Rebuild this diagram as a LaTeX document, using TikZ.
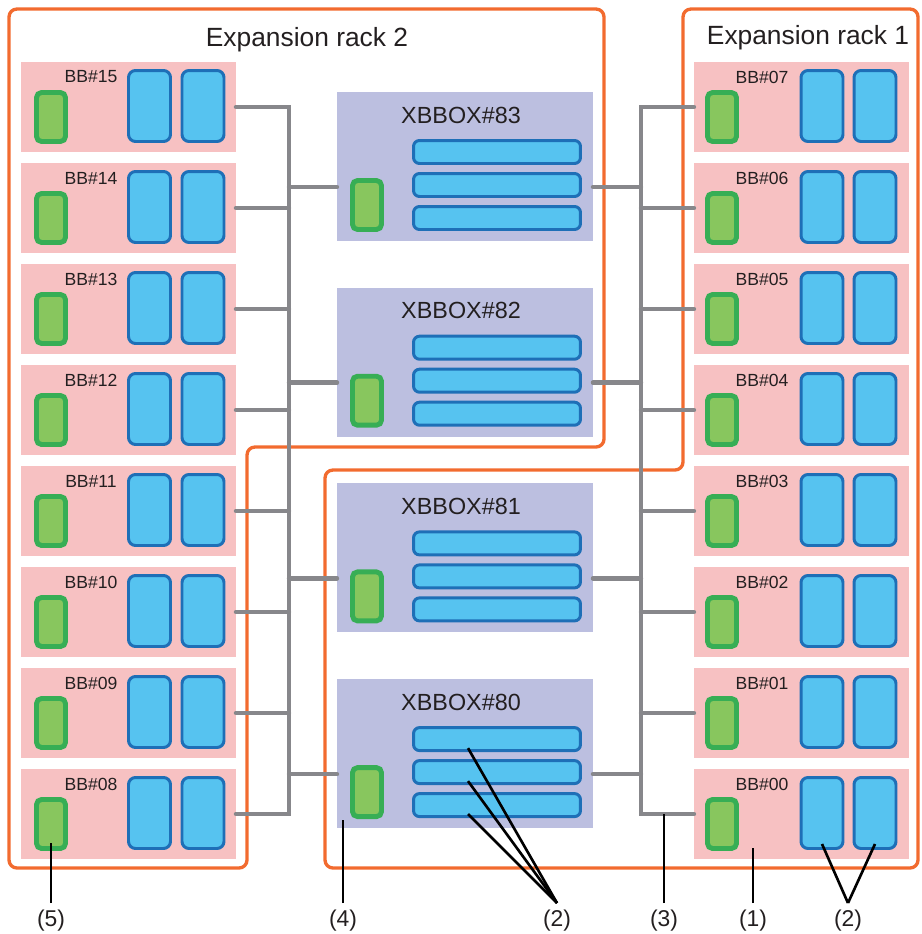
\documentclass[tikz,border=0pt]{standalone}
\usepackage{fontspec}
\setmainfont{Liberation Sans}
\definecolor{rackorange}{RGB}{242,107,47}
\definecolor{bbpink}{RGB}{247,193,194}
\definecolor{xlav}{RGB}{188,191,224}
\definecolor{lblue}{RGB}{86,195,240}
\definecolor{dblue}{RGB}{30,111,183}
\definecolor{lgreen}{RGB}{136,198,94}
\definecolor{dgreen}{RGB}{55,174,85}
\definecolor{busgray}{RGB}{135,135,139}
\definecolor{txt}{RGB}{35,31,32}
\begin{document}
\begin{tikzpicture}[x=0.02cm, y=-0.02cm]
    \tikzstyle{rack}=[draw=rackorange, line width=1.9pt, rounded corners=0.16cm]
    \tikzstyle{bbbox}=[fill=bbpink, anchor=north west, inner sep=0, outer sep=0, minimum width=4.3cm, minimum height=1.8cm]
    \tikzstyle{xbox}=[fill=xlav, anchor=north west, inner sep=0, outer sep=0, minimum width=5.12cm, minimum height=2.98cm]
    \tikzstyle{gbox}=[draw=dgreen, fill=lgreen, line width=2.8pt, rounded corners=0.1cm, inner sep=0, minimum width=0.58cm, minimum height=0.98cm]
    \tikzstyle{ubox}=[draw=dblue, fill=lblue, line width=1.7pt, rounded corners=0.14cm, inner sep=0, minimum width=0.84cm, minimum height=1.42cm]
    \tikzstyle{bar}=[draw=dblue, fill=lblue, line width=1.7pt, rounded corners=0.12cm, inner sep=0, minimum width=3.34cm, minimum height=0.46cm]
    \tikzstyle{bblabel}=[text=txt, inner sep=0, font=\fontsize{10}{12}\selectfont]
    \tikzstyle{xlabel}=[text=txt, inner sep=0, font=\fontsize{13.3}{16}\selectfont]
    \tikzstyle{racklabel}=[text=txt, inner sep=0, anchor=base, font=\fontsize{15}{18}\selectfont]
    \tikzstyle{tag}=[text=txt, anchor=north, inner xsep=0, inner ysep=0.13cm, outer sep=0, font=\fontsize{13}{16}\selectfont]
    \tikzstyle{bus}=[draw=busgray, line width=2.5pt, line cap=round]
    \tikzstyle{callout}=[draw=black, line width=1.5pt]
    \useasboundingbox (0,0) rectangle (921,934);

    % racks
    \draw[rack] (9,9) -- (604,9) -- (604,447) -- (247,447) -- (247,868) -- (9,868) -- cycle;
    \draw[rack] (683,9) -- (918,9) -- (918,868) -- (325,868) -- (325,470) -- (683,470) -- cycle;
    \node[racklabel] (r2) at (307,46) {Expansion rack 2};
    \node[racklabel] (r1) at (808,44) {Expansion rack 1};

    % building blocks
    \foreach \n [count=\i from 0] in {15,14,13,12,11,10,09,08} {
        \node[bbbox] (bb\n) at (21,62+101*\i) {};
        \node[bblabel] at (91,77+101*\i) {BB\#\n};
        \node[gbox] (g\n) at (51,117+101*\i) {};
        \node[ubox] (ua\n) at (149.5,106+101*\i) {};
        \node[ubox] (ub\n) at (203,106+101*\i) {};
    }
    \foreach \n [count=\i from 0] in {07,06,05,04,03,02,01,00} {
        \node[bbbox] (bb\n) at (694,62+101*\i) {};
        \node[bblabel] at (762,77+101*\i) {BB\#\n};
        \node[gbox] (g\n) at (722,117+101*\i) {};
        \node[ubox] (ua\n) at (822,106+101*\i) {};
        \node[ubox] (ub\n) at (875,106+101*\i) {};
    }

    % xbbox
    \foreach \n [count=\i from 0] in {83,82,81,80} {
        \node[xbox] (x\n) at (337,92+195.7*\i) {};
        \node[xlabel] at (461,115+195.7*\i) {XBBOX\#\n};
        \node[gbox] (g\n) at (367,205+195.7*\i) {};
        \node[bar] (ra\n) at (497,152+195.7*\i) {};
        \node[bar] (rb\n) at (497,185+195.7*\i) {};
        \node[bar] (rc\n) at (497,218+195.7*\i) {};
    }

    % cables
    \coordinate (busl) at (289,0);
    \coordinate (busr) at (641,0);
    \draw[bus] (bb15.east) -| (busl |- bb08.east) -- (bb08.east);
    \foreach \n in {14,13,12,11,10,09}
        \draw[bus] (bb\n.east) -- (busl |- bb\n.east);
    \draw[bus] (bb07.west) -| (busr |- bb00.west) -- (bb00.west);
    \foreach \n in {06,05,04,03,02,01}
        \draw[bus] (bb\n.west) -- (busr |- bb\n.west);
    \foreach \n in {83,82,81,80} {
        \draw[bus] ([yshift=-0.41cm]x\n.west) -- ([yshift=-0.41cm]busl |- x\n.west);
        \draw[bus] ([yshift=-0.41cm]x\n.east) -- ([yshift=-0.41cm]busr |- x\n.east);
    }

    % callouts
    \node[tag] (t5) at (51,903) {(5)};
    \node[tag] (t4) at (343,903) {(4)};
    \node[tag] (t2a) at (557,903) {(2)};
    \node[tag] (t3) at (664,903) {(3)};
    \node[tag] (t1) at (753,903) {(1)};
    \node[tag] (t2b) at (848,903) {(2)};
    \draw[callout] (t5.north) -- ([yshift=0.16cm]t5.north |- g08.south);
    \draw[callout] (t4.north) -- ([yshift=0.16cm]t4.north |- x80.south);
    \draw[callout] (t2a.north) -- ([xshift=-0.58cm,yshift=-0.18cm]ra80.center);
    \draw[callout] (t2a.north) -- ([xshift=-0.58cm,yshift=-0.18cm]rb80.center);
    \draw[callout] (t2a.north) -- ([xshift=-0.58cm,yshift=-0.18cm]rc80.center);
    \draw[callout] (t3.north) -- (t3.north |- bb00.west);
    \draw[callout] (t1.north) -- ([yshift=0.22cm]t1.north |- bb00.south);
    \draw[callout] (t2b.north) -- ([yshift=0.12cm]ua00.south);
    \draw[callout] (t2b.north) -- ([yshift=0.12cm]ub00.south);
\end{tikzpicture}
\end{document}
